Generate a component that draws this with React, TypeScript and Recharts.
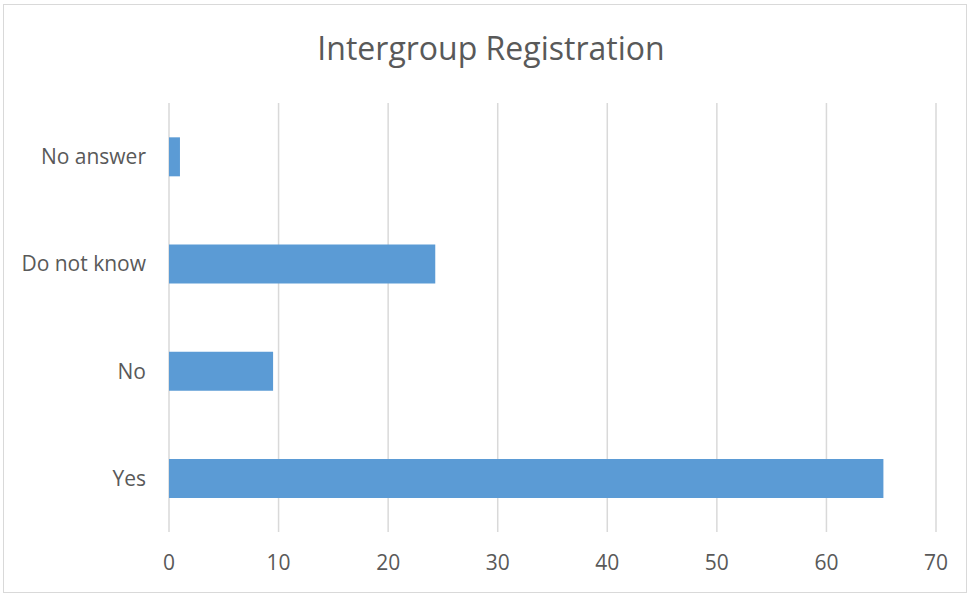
import { Bar, BarChart, CartesianGrid, XAxis, YAxis } from "recharts"

const categories = ["No answer", "Do not know", "No", "Yes"]
const values = [1, 24.3, 9.5, 65.2]
const xTicks = [0, 10, 20, 30, 40, 50, 60, 70]

const data = categories.map((name, i) => ({ name, value: values[i] }))

const font = "'Open Sans', sans-serif"
const textColor = "#595959"

export default function App() {
  return (
    <div style={{ position: "absolute", left: 0, top: 0, width: 969, height: 593, background: "#fff", fontFamily: font }}>
      <div
        style={{
          position: "absolute",
          left: 3,
          top: 4,
          width: 962,
          height: 587,
          border: "1px solid #d9d9d9",
        }}
      />
      <div
        style={{
          position: "absolute",
          left: 0,
          top: 32,
          width: 982,
          textAlign: "center",
          fontSize: 32,
          lineHeight: "32px",
          color: textColor,
        }}
      >
        Intergroup Registration
      </div>
      <BarChart
        width={969}
        height={593}
        data={data}
        layout="vertical"
        margin={{ top: 103, right: 33, bottom: 0, left: 0 }}
        barCategoryGap="32%"
        style={{ position: "absolute", left: 0, top: 0 }}
      >
        <CartesianGrid horizontal={false} stroke="#d9d9d9" strokeWidth={1.5} />
        <XAxis
          type="number"
          domain={[0, 70]}
          ticks={xTicks}
          interval={0}
          height={61}
          axisLine={false}
          tickLine={false}
          tickSize={0}
          tickMargin={23}
          tick={{ fill: textColor, fontSize: 21, fontFamily: font }}
        />
        <YAxis
          type="category"
          dataKey="name"
          width={169}
          axisLine={false}
          tickLine={false}
          tickSize={0}
          tickMargin={23}
          tick={{ fill: textColor, fontSize: 21, fontFamily: font }}
        />
        <Bar dataKey="value" fill="#5b9bd5" isAnimationActive={false} />
      </BarChart>
    </div>
  )
}
